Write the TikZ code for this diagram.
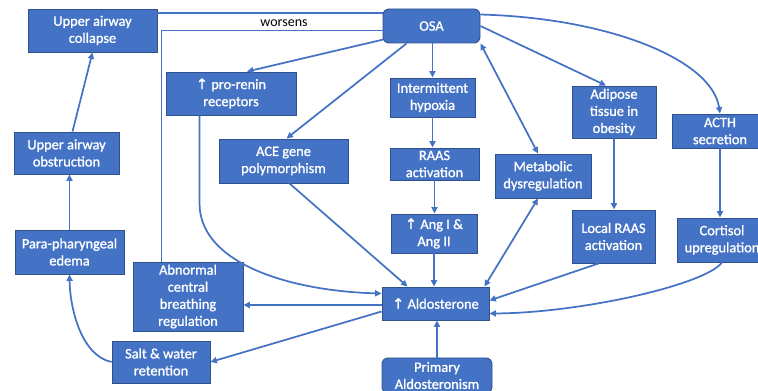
\documentclass[tikz,border=0pt]{standalone}
\usepackage{fontspec}
\setmainfont{Carlito}
\newfontfamily\boxfont{Carlito}[BoldFont=Carlito, BoldFeatures={FakeBold=1.2}]
\newfontfamily\symfont{DejaVu Sans}[BoldFont=DejaVu Sans, BoldFeatures={FakeBold=1.2}]
\newcommand\uparr{{\symfont\char"2191}}
\usetikzlibrary{arrows.meta,calc}
\definecolor{boxfill}{HTML}{4472C4}
\definecolor{boxline}{HTML}{2F528F}
\definecolor{conn}{HTML}{4472C4}
\begin{document}
\begin{tikzpicture}[x=0.75pt,y=-0.75pt,
  box/.style={draw=boxline, line width=0.7pt, fill=boxfill, text=white, align=center,
    inner sep=0pt, font=\boxfont\bfseries\fontsize{10.8}{12.8}\selectfont},
  rbox/.style={box, rounded corners=4.5pt},
  conn/.style={draw=conn, line width=1.3pt},
  arr/.style={conn, -{Triangle[length=4.8pt,width=4.5pt]}},
  darr/.style={conn, {Triangle[length=4.8pt,width=4.5pt]}-{Triangle[length=4.8pt,width=4.5pt]}},
  lbl/.style={font=\fontsize{10.5}{12}\selectfont, text=black, inner sep=0pt}]
\useasboundingbox (0,0) rectangle (758,391);

% nodes
\node[box, minimum width=96.75pt, minimum height=32.25pt] (collapse) at (92.5,30.5) {Upper airway\\collapse};
\node[box, minimum width=78.75pt, minimum height=31.5pt] (obstruction) at (66.5,153) {Upper airway\\obstruction};
\node[box, minimum width=81.75pt, minimum height=33pt] (edema) at (69.5,252) {Para-pharyngeal\\edema};
\node[box, minimum width=73.5pt, minimum height=31.5pt] (salt) at (161,362) {Salt \& water\\retention};
\node[box, minimum width=82.5pt, minimum height=51.75pt] (abnormal) at (188,296.5) {Abnormal\\central\\breathing\\regulation};
\node[box, minimum width=97.5pt, minimum height=32.25pt] (prorenin) at (231,93.5) {\uparr{} pro-renin\\receptors};
\node[box, minimum width=96.75pt, minimum height=33pt] (ace) at (283.5,161) {ACE gene\\polymorphism};
\node[rbox, minimum width=72.75pt, minimum height=25.5pt] (osa) at (431.5,26) {OSA};
\node[box, minimum width=63.75pt, minimum height=29.25pt] (hypoxia) at (432.5,97.5) {Intermittent\\hypoxia};
\node[box, minimum width=66.75pt, minimum height=24pt] (raas) at (434.5,164) {RAAS\\activation};
\node[box, minimum width=64.5pt, minimum height=29.25pt] (ang) at (434,233.5) {\uparr{} Ang I \&\\Ang II};
\node[box, minimum width=80.25pt, minimum height=24.75pt] (aldo) at (435.5,303.5) {\uparr{} Aldosterone};
\node[rbox, minimum width=82.5pt, minimum height=26.25pt] (primary) at (437,375.5) {Primary\\Aldosteronism};
\node[box, minimum width=72pt, minimum height=33pt] (metabolic) at (543,176) {Metabolic\\dysregulation};
\node[box, minimum width=63pt, minimum height=39pt] (adipose) at (614,112) {Adipose\\tissue in\\obesity};
\node[box, minimum width=62.25pt, minimum height=39.75pt] (local) at (613.5,236.5) {Local RAAS\\activation};
\node[box, minimum width=72pt, minimum height=25.5pt] (acth) at (720,131) {ACTH\\secretion};
\node[box, minimum width=67.5pt, minimum height=33pt] (cortisol) at (722,240) {Cortisol\\upregulation};
\node[lbl] (worsens) at (284,23.5) {worsens};

% connectors
\coordinate (c1) at ($(collapse.north east)+(0,4.5)$);
\draw[conn] (c1) -- (c1 -| osa.west);
\coordinate (w1) at ($(abnormal.north west)+(29,0)$);
\coordinate (w2) at ($(osa.west)+(0,4.5)$);
\draw[conn] (w1) |- (w2);
\draw[arr] ($(osa.south west)+(1,-4)$) -- ($(prorenin.north)+(16,0)$);
\draw[arr] ($(osa.south west)+(24,0)$) -- ($(ace.north)+(3,0)$);
\draw[arr] (hypoxia.north |- osa.south) -- (hypoxia.north);
\draw[arr] (hypoxia.south) -- (hypoxia.south |- raas.north);
\draw[arr] (raas.south) -- (raas.south |- ang.north);
\draw[arr] (ang.south) -- (ang.south |- aldo.north);
\draw[arr] (primary.north) -- (primary.north |- aldo.south);
\draw[darr] (osa.south east) -- ($(metabolic.north)+(-5,0)$);
\draw[arr] (osa.east) -- ($(adipose.north)+(-8,0)$);
\draw[arr] ($(osa.north east)+(0,6)$) .. controls (610,18) and (712,60) .. (acth.north);
\draw[arr] (adipose.south) -- (adipose.south |- local.north);
\draw[arr] (acth.south) -- (acth.south |- cortisol.north);
\draw[arr] ($(local.south)+(-15,0)$) -- ($(aldo.east)+(0,-3)$);
\draw[arr] (cortisol.south) .. controls (705,285) and (580,313) .. ($(aldo.east)+(0,10)$);
\draw[darr] ($(metabolic.south)+(-5,0)$) -- ($(aldo.north east)+(-5,0)$);
\draw[arr] ($(ace.south)+(6,0)$) -- ($(aldo.north west)+(26,0)$);
\coordinate (p1) at ($(prorenin.south west)+(34,0)$);
\coordinate (p2) at ($(p1)+(0,88)$);
\draw[arr] (p1) -- (p2) .. controls ($(p2)+(0,60)$) and (290,291) .. ($(aldo.west)+(0,-10)$);
\coordinate (a1) at ($(aldo.west)+(0,1.5)$);
\draw[arr] (a1) -- (a1 -| abnormal.east);
\draw[arr] ($(aldo.west)+(0,8)$) -- (salt.east);
\draw[arr] (salt.west) .. controls (82,356) and (70,310) .. (edema.south);
\draw[arr] (edema.north) -- (edema.north |- obstruction.south);
\draw[arr] ($(obstruction.north)+(6,0)$) -- (collapse.south);
\end{tikzpicture}
\end{document}
